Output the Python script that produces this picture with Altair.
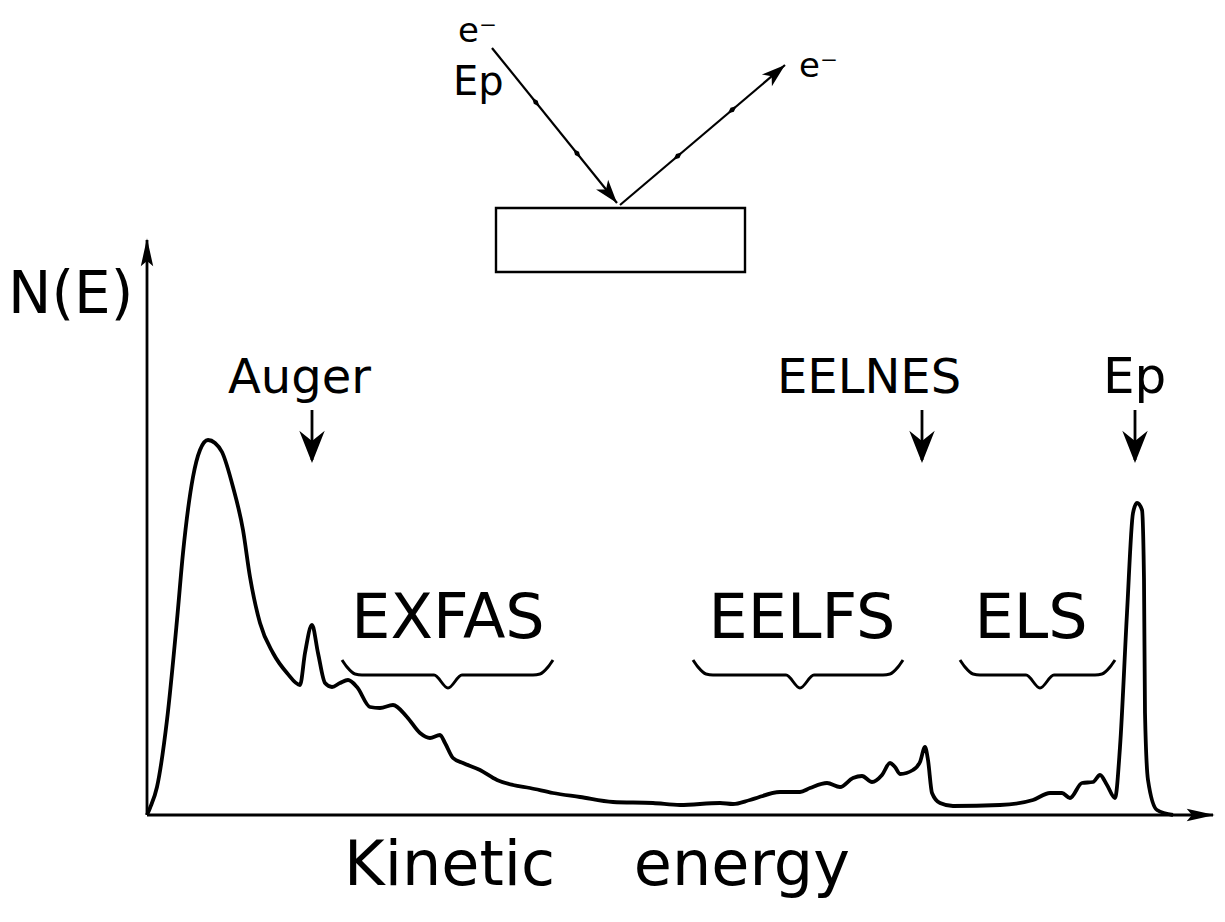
import math
import altair as alt
import pandas as pd

# ---------------- data: N(E) spectrum (arbitrary units) ----------------
energy = [0, 3, 10, 20, 30, 36, 46, 53, 61, 68, 75, 86, 96, 103, 113, 126, 140, 153,
          158, 165, 171, 178, 185, 193, 201, 210, 223, 233, 246, 260, 273, 283, 293,
          298, 306, 316, 333, 350, 366, 383, 406, 433, 466, 506, 533, 573, 586, 603,
          633, 653, 663, 680, 693, 706, 715, 725, 735, 743, 748, 753, 766, 773, 778,
          781, 785, 793, 806, 853, 886, 903, 915, 923, 935, 946, 953, 960, 968, 973,
          980, 986, 990, 995, 997, 998, 1001, 1010, 1026]
counts = [0, 7, 28, 95, 195, 262, 338, 365, 375, 372, 363, 328, 285, 238, 192, 162,
          142, 130, 162, 190, 162, 132, 128, 132, 135, 128, 108, 107, 110, 98, 82, 77,
          80, 72, 57, 52, 45, 35, 30, 27, 22, 18, 13, 12, 10, 12, 11, 15, 23, 23, 27,
          32, 28, 37, 39, 33, 40, 52, 48, 41, 45, 53, 68, 55, 22, 12, 9, 10, 15, 22,
          22, 17, 32, 33, 40, 30, 17, 68, 202, 302, 312, 305, 235, 102, 35, 5, 0]

# feature labels and the energies they point to
arrow_labels = ["Auger", "EELNES", "Ep"]
arrow_energy = [165, 775, 988]
range_labels = ["EXFAS", "EELFS", "ELS"]
range_start = [195, 546, 813]
range_end = [406, 756, 968]
range_mid = [301, 653, 893]

# ---------------- helpers ----------------
XD = [-139, 1070]
YD = [-93, 807]


def X(f="x"):
    return alt.X(f"{f}:Q", scale=alt.Scale(domain=XD, nice=False, zero=False), axis=None)


def Y(f="y"):
    return alt.Y(f"{f}:Q", scale=alt.Scale(domain=YD, nice=False, zero=False), axis=None)


FONT = "DejaVu Sans"
layers = []

# spectrum curve
df_curve = pd.DataFrame({"x": energy, "y": counts})
layers.append(alt.Chart(df_curve).mark_line(color="black", strokeWidth=3.8,
                                            interpolate="monotone").encode(x=X(), y=Y()))

# axes
df_axes = pd.DataFrame({"x": [0, 0], "y": [0, 0], "x2": [0, 1066], "y2": [575, 0]})
layers.append(alt.Chart(df_axes).mark_rule(color="black", strokeWidth=2.8).encode(
    x=X(), y=Y(), x2="x2:Q", y2="y2:Q"))

ARROW_UP = "M0,-1L0.42,0.9L0,0.55L-0.42,0.9Z"
df_ax_heads = pd.DataFrame({"x": [0, 1053], "y": [562, 0], "a": [0, 90]})
layers.append(alt.Chart(df_ax_heads).mark_point(shape=ARROW_UP, filled=True, opacity=1,
                                                color="black", size=870).encode(
    x=X(), y=Y(), angle=alt.Angle("a:Q", scale=None)))

# downward arrows over features
df_arr = pd.DataFrame({"x": arrow_energy, "y": [405] * 3, "y2": [355] * 3,
                       "yh": [369] * 3})
layers.append(alt.Chart(df_arr).mark_rule(color="black", strokeWidth=2.8).encode(
    x=X(), y=Y(), y2="y2:Q"))
ARROW_DOWN = "M0,1L-0.75,-0.9L0,-0.3L0.75,-0.9Z"
layers.append(alt.Chart(df_arr).mark_point(shape=ARROW_DOWN, filled=True, opacity=1,
                                           color="black", size=1150).encode(
    x=X(), y=Y("yh")))

# braces under ranges
rows = []
for name, a, b, m in zip(range_labels, range_start, range_end, range_mid):
    pts = [(a, 155), (a + 5, 148), (a + 13, 141), (a + 20, 140), (m - 14, 140),
           (m, 127), (m + 14, 140), (b - 20, 140), (b - 13, 141), (b - 5, 148), (b, 155)]
    for i, (px, py) in enumerate(pts):
        rows.append({"g": name, "i": i, "x": px, "y": py})
df_br = pd.DataFrame(rows)
layers.append(alt.Chart(df_br).mark_line(color="black", strokeWidth=3,
                                         interpolate="monotone").encode(
    x=X(), y=Y(), detail="g:N", order="i:Q"))


# text labels
def text_layer(texts, xs, ys, size, align="left", weight="normal"):
    d = pd.DataFrame({"t": texts, "x": xs, "y": ys})
    return alt.Chart(d).mark_text(font=FONT, fontSize=size, align=align,
                                  baseline="alphabetic", color="black",
                                  fontWeight=weight).encode(x=X(), y=Y(), text="t:N")


NB = "\u00a0"
layers.append(text_layer(["N(E)"], [-139], [502], 58))
layers.append(text_layer(["Auger"], [81], [422], 48))
layers.append(text_layer(["EELNES"], [630], [422], 48))
layers.append(text_layer(["Ep"], [956], [422], 50))
layers.append(text_layer(range_labels, [301, 655, 884], [177, 177, 177], 62,
                         align="center"))
layers.append(text_layer(["Kinetic" + NB * 4 + "energy"], [450], [-70], 62,
                         align="center"))

# ---------------- inset: scattering geometry ----------------
df_rect = pd.DataFrame({"x": [349], "x2": [598], "y": [607], "y2": [543]})
layers.append(alt.Chart(df_rect).mark_rect(fill="white", stroke="black",
                                           strokeWidth=2.4).encode(
    x=X(), x2="x2:Q", y=Y(), y2="y2:Q"))

beams = [((345, 767), (470, 612)), ((473, 610), (638, 750))]
seg_rows, head_rows, mark_rows = [], [], []
for (x0, y0), (x1, y1) in beams:
    seg_rows.append({"x": x0, "y": y0, "x2": x1, "y2": y1})
    dx, dy = x1 - x0, -(y1 - y0)
    L = math.hypot(dx, dy)
    ux, uy = dx / L, dy / L
    ang = math.degrees(math.atan2(dx, -dy)) % 360
    k = 12.5
    head_rows.append({"x": x1 - ux * k, "y": y1 + uy * k, "a": ang})
    for f in (0.35, 0.68):
        mark_rows.append({"x": x0 + (x1 - x0) * f, "y": y0 + (y1 - y0) * f, "a": ang})
layers.append(alt.Chart(pd.DataFrame(seg_rows)).mark_rule(color="black",
                                                          strokeWidth=2.2).encode(
    x=X(), y=Y(), x2="x2:Q", y2="y2:Q"))
layers.append(alt.Chart(pd.DataFrame(head_rows)).mark_point(
    shape="M0,-1L0.62,0.9L0,0.4L-0.62,0.9Z", filled=True, opacity=1, color="black",
    size=625).encode(x=X(), y=Y(), angle=alt.Angle("a:Q", scale=None)))
layers.append(alt.Chart(pd.DataFrame(mark_rows)).mark_point(
    shape="M0,-1L0.45,0L0,1L-0.45,0Z", filled=True, opacity=1, color="black",
    size=130).encode(x=X(), y=Y(), angle=alt.Angle("a:Q", scale=None)))

layers.append(text_layer(["e\u207b", "e\u207b"], [311, 652], [773, 738], 34))
layers.append(text_layer(["Ep"], [306], [720], 40))

chart = alt.layer(*layers).properties(
    width=1209, height=900, padding=0,
    autosize=alt.AutoSizeParams(type="none"),
).configure_view(stroke=None)

chart.save("out.html", embed_options={"renderer": "svg", "actions": False})
